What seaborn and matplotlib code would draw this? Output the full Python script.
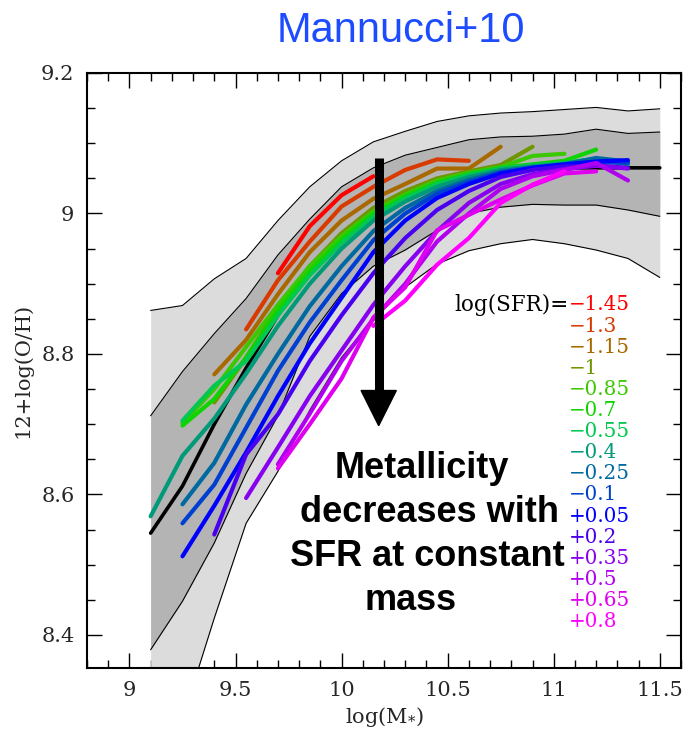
import numpy as np
import pandas as pd
import matplotlib
matplotlib.use("Agg")
import matplotlib.pyplot as plt
import seaborn as sns
from matplotlib.patches import Polygon
from matplotlib.ticker import MultipleLocator, FuncFormatter

_ = None

# stellar-mass bins
log_mass = [9.1, 9.25, 9.4, 9.55, 9.7, 9.85, 10.0, 10.15, 10.3, 10.45,
            10.6, 10.75, 10.9, 11.05, 11.2, 11.35, 11.5]

# mass-metallicity relation of the full sample: median and percentile envelopes
oh_median = [8.545, 8.612, 8.700, 8.780, 8.855, 8.920, 8.970, 9.005, 9.030,
             9.045, 9.055, 9.060, 9.063, 9.065, 9.065, 9.065, 9.065]
inner_hi = [8.712, 8.775, 8.829, 8.879, 8.941, 8.992, 9.038, 9.065, 9.083,
            9.094, 9.105, 9.109, 9.110, 9.113, 9.120, 9.114, 9.116]
inner_lo = [8.379, 8.448, 8.531, 8.630, 8.712, 8.825, 8.886, 8.925, 8.948,
            8.976, 9.000, 9.009, 9.013, 9.012, 9.012, 9.005, 8.996]
outer_hi = [8.862, 8.869, 8.907, 8.936, 8.990, 9.038, 9.075, 9.102, 9.117,
            9.131, 9.139, 9.143, 9.145, 9.148, 9.151, 9.146, 9.149]
outer_lo = [8.120, 8.280, 8.424, 8.559, 8.633, 8.720, 8.795, 8.850, 8.895,
            8.928, 8.947, 8.957, 8.963, 8.957, 8.948, 8.936, 8.909]

# metallicity in each log(SFR) bin
oh_m145 = [_, _, _, _, 8.915, 8.982, 9.026, 9.053, _, _, _, _, _, _, _, _, _]
oh_m130 = [_, _, _, 8.835, 8.905, 8.960, 9.010, 9.038, 9.062, 9.077, 9.075, _, _, _, _, _, _]
oh_m115 = [_, _, 8.771, 8.820, 8.885, 8.945, 8.990, 9.021, 9.042, 9.064, 9.064, 9.095, _, _, _, _, _]
oh_m100 = [_, _, 8.731, 8.795, 8.865, 8.925, 8.972, 9.008, 9.032, 9.050, 9.060, 9.069, 9.095, _, _, _, _]
oh_m085 = [_, 8.702, 8.750, 8.810, 8.870, 8.925, 8.968, 9.003, 9.027, 9.047, 9.058, 9.066, 9.082, 9.085, _, _, _]
oh_m070 = [_, 8.698, 8.736, 8.795, 8.862, 8.918, 8.963, 9.000, 9.025, 9.044, 9.056, 9.065, 9.070, 9.075, 9.091, _, _]
oh_m055 = [_, 8.705, 8.755, 8.790, 8.855, 8.912, 8.958, 8.996, 9.022, 9.042, 9.055, 9.064, 9.069, 9.072, 9.078, _, _]
oh_m040 = [8.569, 8.655, 8.708, 8.772, 8.840, 8.900, 8.950, 8.990, 9.017, 9.038, 9.052, 9.062, 9.067, 9.071, 9.078, 9.070, _]
oh_m025 = [_, 8.586, 8.645, 8.728, 8.800, 8.868, 8.925, 8.975, 9.008, 9.032, 9.048, 9.060, 9.066, 9.070, 9.079, 9.074, _]
oh_m010 = [_, 8.559, 8.614, 8.695, 8.776, 8.845, 8.905, 8.962, 9.000, 9.028, 9.045, 9.058, 9.065, 9.069, 9.073, 9.072, _]
oh_p005 = [_, 8.512, 8.584, 8.660, 8.740, 8.815, 8.880, 8.945, 8.990, 9.022, 9.042, 9.057, 9.065, 9.070, 9.074, 9.076, _]
oh_p020 = [_, _, 8.543, 8.657, 8.714, 8.790, 8.855, 8.915, 8.965, 9.005, 9.032, 9.052, 9.062, 9.067, 9.068, 9.065, _]
oh_p035 = [_, _, _, 8.595, 8.667, 8.740, 8.805, 8.870, 8.925, 8.975, 9.015, 9.042, 9.056, 9.063, 9.068, 9.064, _]
oh_p050 = [_, _, _, _, 8.643, 8.715, 8.790, 8.850, 8.900, 8.960, 9.000, 9.035, 9.053, 9.062, 9.072, 9.047, _]
oh_p065 = [_, _, _, _, 8.637, 8.700, 8.765, 8.852, 8.895, 8.976, 8.998, 9.020, 9.040, 9.057, 9.060, _, _]
oh_p080 = [_, _, _, _, _, _, _, 8.840, 8.876, 8.927, 8.965, 9.015, 9.041, 9.060, _, _, _]

sfr_labels = ["\u22121.45", "\u22121.3", "\u22121.15", "\u22121", "\u22120.85", "\u22120.7",
              "\u22120.55", "\u22120.4", "\u22120.25", "\u22120.1", "+0.05", "+0.2",
              "+0.35", "+0.5", "+0.65", "+0.8"]
sfr_colors = ["#ff0000", "#d83a00", "#a86a00", "#6f9500", "#3cc800", "#10d400",
              "#00c850", "#009a78", "#006aa0", "#0040d0", "#0000ff", "#4a00f0",
              "#8800f0", "#b000f0", "#e000f0", "#ff00ff"]
sfr_curves = [oh_m145, oh_m130, oh_m115, oh_m100, oh_m085, oh_m070, oh_m055, oh_m040,
              oh_m025, oh_m010, oh_p005, oh_p020, oh_p035, oh_p050, oh_p065, oh_p080]

rows = []
for lab, curve in zip(sfr_labels, sfr_curves):
    for m, oh in zip(log_mass, curve):
        if oh is not None:
            rows.append({"log_mass": m, "oh": oh, "sfr": lab})
df = pd.DataFrame(rows)

sns.set_theme(style="ticks")
plt.rcParams["font.family"] = ["DejaVu Serif"]
plt.rcParams["mathtext.fontset"] = "dejavuserif"

W, H = 686, 736
fig = plt.figure(figsize=(W / 100, H / 100), dpi=100)
ax_l, ax_r, ax_t, ax_b = 87, 681, 73, 668
ax = fig.add_axes([ax_l / W, 1 - ax_b / H, (ax_r - ax_l) / W, (ax_b - ax_t) / H])

# envelopes
ax.fill_between(log_mass, outer_lo, outer_hi, color="#dcdcdc", lw=0, zorder=1)
ax.fill_between(log_mass, inner_lo, inner_hi, color="#b4b4b4", lw=0, zorder=2)
for edge in (outer_lo, outer_hi, inner_lo, inner_hi):
    ax.plot(log_mass, edge, color="black", lw=0.8, zorder=3)
ax.plot(log_mass, oh_median, color="black", lw=2.6, zorder=4)

sns.lineplot(data=df, x="log_mass", y="oh", hue="sfr", hue_order=sfr_labels,
             palette=dict(zip(sfr_labels, sfr_colors)), estimator=None, sort=False,
             lw=3, legend=False, ax=ax, zorder=5)

ax.set_xlim(8.8, 11.6)
ax.set_ylim(8.353, 9.2)

# downward arrow
arrow_x = 10.175
ax.plot([arrow_x, arrow_x], [9.079, 8.745], color="black", lw=6.5,
        solid_capstyle="butt", zorder=8)
ax.add_patch(Polygon([[arrow_x - 0.083, 8.748], [arrow_x + 0.083, 8.748],
                      [arrow_x, 8.698]], closed=True, color="black", zorder=8))

# axes styling
ax.xaxis.set_major_locator(MultipleLocator(0.5))
ax.xaxis.set_minor_locator(MultipleLocator(0.1))
ax.yaxis.set_major_locator(MultipleLocator(0.2))
ax.yaxis.set_minor_locator(MultipleLocator(0.05))
fmt = FuncFormatter(lambda v, p: "%g" % round(v, 3))
ax.xaxis.set_major_formatter(fmt)
ax.yaxis.set_major_formatter(fmt)
ax.tick_params(which="both", direction="in", top=True, right=True,
               width=1.0, color="black", labelsize=15, pad=9)
ax.tick_params(which="major", length=11)
ax.tick_params(which="minor", length=5.5)
for s in ax.spines.values():
    s.set_linewidth(1.5)
    s.set_color("black")
ax.set_xlabel("log(M$_{*}$)", fontsize=15, labelpad=4)
ax.set_ylabel("12+log(O/H)", fontsize=15, labelpad=6)

# SFR key
def axfrac(px, py):
    return (px - ax_l) / (ax_r - ax_l), (ax_b - py) / (ax_b - ax_t)

kx, ky = axfrac(569, 305)
ax.text(kx, ky, "log(SFR)=", transform=ax.transAxes, ha="right", va="center",
        fontsize=15.5, color="black")
step = 21.1 / (ax_b - ax_t)
for i, (lab, col) in enumerate(zip(sfr_labels, sfr_colors)):
    ax.text(kx, ky - i * step, lab, transform=ax.transAxes, ha="left", va="center",
            fontsize=14.3, color=col)

# annotation
for line, px, py in zip(["Metallicity", "decreases with", "SFR at constant", "mass"],
                        [422, 429, 427, 411], [468, 512, 556, 600]):
    tx, ty = axfrac(px, py)
    ax.text(tx, ty, line, transform=ax.transAxes, ha="center", va="center",
            fontsize=26, fontweight="bold", family=["Liberation Sans", "DejaVu Sans"],
            color="black", zorder=9)

fig.text(401 / W, 1 - 31 / H, "Mannucci+10", ha="center", va="center", fontsize=30,
         color="#1d4cff", family=["Liberation Sans", "DejaVu Sans"])

fig.savefig("out.png", dpi=100)
